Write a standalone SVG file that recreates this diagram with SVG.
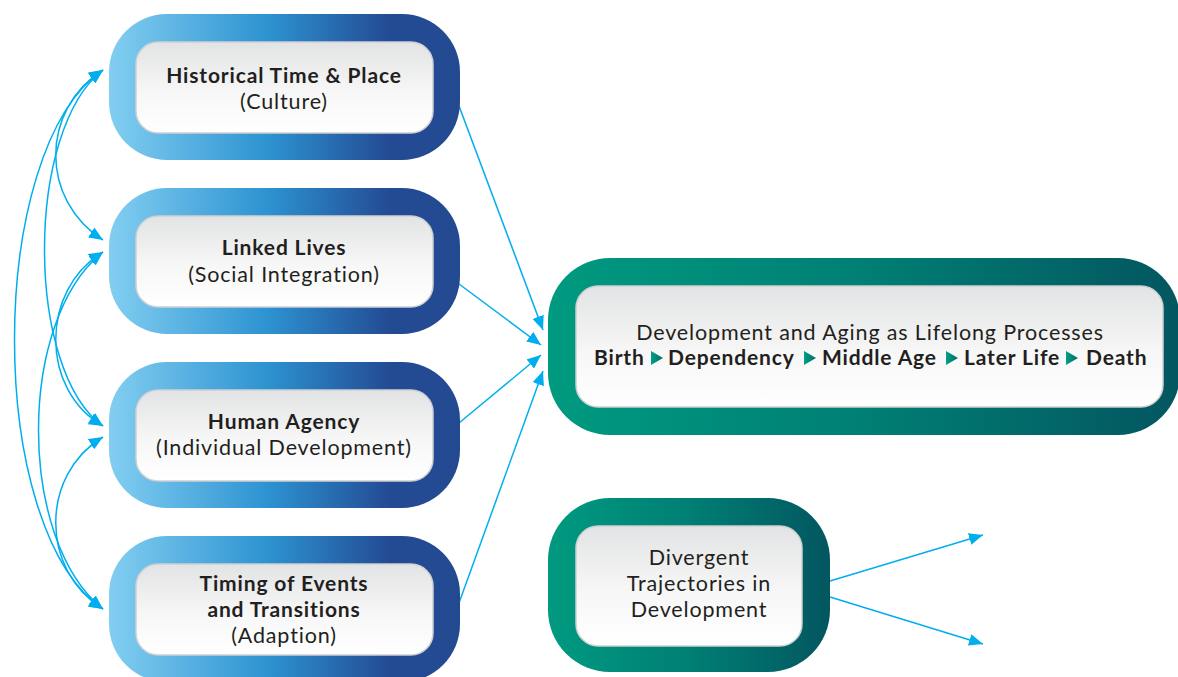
<svg xmlns="http://www.w3.org/2000/svg" width="1178" height="677" viewBox="0 0 1178 677">
  <defs>
    <linearGradient id="blueRing" x1="0" y1="0" x2="1" y2="0">
      <stop offset="0" stop-color="#82cef1"/>
      <stop offset="0.45" stop-color="#2d93d1"/>
      <stop offset="0.8" stop-color="#234b94"/>
      <stop offset="1" stop-color="#234a91"/>
    </linearGradient>
    <linearGradient id="greenRing" x1="0" y1="0" x2="1" y2="0">
      <stop offset="0" stop-color="#009a80"/>
      <stop offset="0.5" stop-color="#007f74"/>
      <stop offset="1" stop-color="#035660"/>
    </linearGradient>
    <linearGradient id="panel" x1="0" y1="0" x2="0" y2="1">
      <stop offset="0" stop-color="#e2e3e4"/>
      <stop offset="0.55" stop-color="#f7f7f7"/>
      <stop offset="1" stop-color="#ffffff"/>
    </linearGradient>
    <linearGradient id="tri" x1="0" y1="0" x2="1" y2="0">
      <stop offset="0" stop-color="#00a085"/>
      <stop offset="1" stop-color="#046a6a"/>
    </linearGradient>
    <marker id="arrow" viewBox="0 0 14 12" refX="14" refY="6" markerWidth="14" markerHeight="12" markerUnits="userSpaceOnUse" orient="auto-start-reverse">
      <path d="M0,0 L14,6 L0,12 z" fill="#00aeef"/>
    </marker>
    <style>
      .ringB { fill: url(#blueRing); }
      .ringG { fill: url(#greenRing); }
      .panel { fill: url(#panel); stroke: #cfd0d2; stroke-width: 1.5; }
      .t { font-family: Lato, "Open Sans", sans-serif; font-size: 21.5px; letter-spacing: 0.85px; fill: #231f20; text-anchor: middle; }
      .b { font-weight: bold; font-size: 21px; }
      .w { font-family: Lato, "Open Sans", sans-serif; font-size: 21px; letter-spacing: 0.85px; font-weight: bold; fill: #231f20; }
      .link { fill: none; stroke: #00aeef; stroke-width: 1.5; }
    </style>
  </defs>

  <rect width="1178" height="677" fill="#ffffff"/>

  <!-- connectors -->
  <g id="connectors">
    <!-- reciprocal influences among the four principles -->
    <path class="link" d="M103,70 C40,110 40,200 103,240" marker-start="url(#arrow)" marker-end="url(#arrow)"/>
    <path class="link" d="M103,70 C25,130 25,370 103,426" marker-start="url(#arrow)" marker-end="url(#arrow)"/>
    <path class="link" d="M103,70 C-15,150 -15,530 103,609" marker-start="url(#arrow)" marker-end="url(#arrow)"/>
    <path class="link" d="M103,252 C40,290 40,390 103,426" marker-start="url(#arrow)" marker-end="url(#arrow)"/>
    <path class="link" d="M103,252 C17,320 17,540 103,609" marker-start="url(#arrow)" marker-end="url(#arrow)"/>
    <path class="link" d="M103,437 C40,475 40,570 103,609" marker-start="url(#arrow)" marker-end="url(#arrow)"/>
    <!-- principles feeding into lifelong development -->
    <path class="link" d="M459,106 L543,330" marker-end="url(#arrow)"/>
    <path class="link" d="M459,284 L541,345" marker-end="url(#arrow)"/>
    <path class="link" d="M459,423 L541,355" marker-end="url(#arrow)"/>
    <path class="link" d="M459,603 L543,371" marker-end="url(#arrow)"/>
    <!-- divergent trajectories -->
    <path class="link" d="M830,581 L983,535" marker-end="url(#arrow)"/>
    <path class="link" d="M830,597 L983,644" marker-end="url(#arrow)"/>
  </g>

  <g id="historical">
    <rect class="ringB" x="109" y="14" width="351" height="146" rx="58"/>
    <rect class="panel" x="136" y="42" width="297" height="91" rx="22"/>
    <text class="t b" x="284" y="83">Historical Time &amp; Place</text>
    <text class="t" x="284" y="109">(Culture)</text>
  </g>

  <g id="linked-lives">
    <rect class="ringB" x="109" y="188" width="351" height="146" rx="58"/>
    <rect class="panel" x="136" y="216" width="297" height="91" rx="22"/>
    <text class="t b" x="284" y="255">Linked Lives</text>
    <text class="t" x="284" y="282">(Social Integration)</text>
  </g>

  <g id="human-agency">
    <rect class="ringB" x="109" y="362" width="351" height="146" rx="58"/>
    <rect class="panel" x="136" y="390" width="297" height="91" rx="22"/>
    <text class="t b" x="284" y="429">Human Agency</text>
    <text class="t" x="284" y="455">(Individual Development)</text>
  </g>

  <g id="timing">
    <rect class="ringB" x="109" y="536" width="351" height="146" rx="58"/>
    <rect class="panel" x="136" y="564" width="297" height="91" rx="22"/>
    <text class="t b" x="284" y="591">Timing of Events</text>
    <text class="t b" x="284" y="617">and Transitions</text>
    <text class="t" x="284" y="643">(Adaption)</text>
  </g>

  <g id="lifelong">
    <rect class="ringG" x="548" y="258" width="632" height="177" rx="62"/>
    <rect class="panel" x="576" y="286" width="587" height="121" rx="22"/>
    <text class="t" x="870" y="340">Development and Aging as Lifelong Processes</text>
    <text class="w" x="594" y="365">Birth</text>
    <polygon fill="url(#tri)" points="651,351 663,358 651,365"/>
    <text class="w" x="668" y="365">Dependency</text>
    <polygon fill="url(#tri)" points="804,351 816,358 804,365"/>
    <text class="w" x="822" y="365">Middle Age</text>
    <polygon fill="url(#tri)" points="946,351 958,358 946,365"/>
    <text class="w" x="964" y="365">Later Life</text>
    <polygon fill="url(#tri)" points="1066,351 1078,358 1066,365"/>
    <text class="w" x="1086" y="365">Death</text>
  </g>

  <g id="divergent">
    <rect class="ringG" x="548" y="498" width="282" height="174" rx="62"/>
    <rect class="panel" x="576" y="526" width="226" height="120" rx="22"/>
    <text class="t" x="699" y="565">Divergent</text>
    <text class="t" x="699" y="591">Trajectories in</text>
    <text class="t" x="699" y="617">Development</text>
  </g>
</svg>
